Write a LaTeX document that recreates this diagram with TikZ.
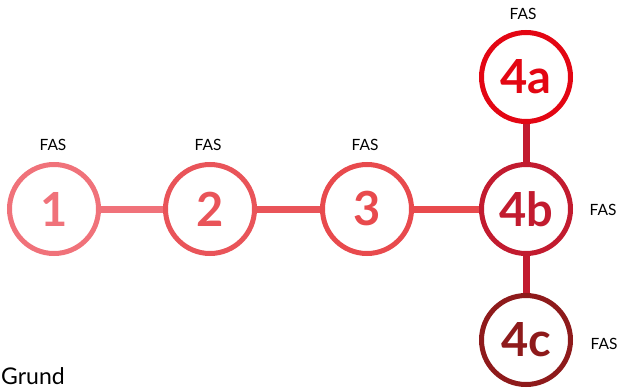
\documentclass[tikz,border=0pt]{standalone}
\usepackage{fontspec}
\setmainfont{Lato}
\definecolor{cA}{HTML}{F0727A}
\definecolor{cB}{HTML}{E95459}
\definecolor{cC}{HTML}{E84A4D}
\definecolor{cDa}{HTML}{E30613}
\definecolor{cDb}{HTML}{C21B2F}
\definecolor{cDc}{HTML}{8E1A1B}
\begin{document}
\begin{tikzpicture}[x=1pt,y=-1pt,
  stepcirc/.style={circle,draw,line width=5pt,minimum size=89pt,inner sep=0pt,
    font=\fontsize{47}{47}\selectfont\bfseries},
  conn/.style={line width=7pt},
  fas/.style={font=\fontsize{15.5}{15.5}\selectfont,inner sep=0pt}]
\useasboundingbox (0,0) rectangle (619,388);
\node[stepcirc,draw=cA,text=cA] (n1) at (54,209) {1};
\node[stepcirc,draw=cB,text=cB] (n2) at (210,209) {2};
\node[stepcirc,draw=cC,text=cC] (n3) at (367,209) {3};
\node[stepcirc,draw=cDb,text=cDb] (n4b) at (526,209) {4b};
\node[stepcirc,draw=cDa,text=cDa] (n4a) at (526,77) {4a};
\node[stepcirc,draw=cDc,text=cDc] (n4c) at (526,340) {4c};
\draw[conn,cA] (n1) -- (n2);
\draw[conn,cB] (n2) -- (n3);
\draw[conn,cC] (n3) -- (n4b);
\draw[conn,cDb] (n4a) -- (n4b);
\draw[conn,cDb] (n4b) -- (n4c);
\node[fas] (f1) at (53,145) {FAS};
\node[fas] (f2) at (208,145) {FAS};
\node[fas] (f3) at (365,145) {FAS};
\node[fas] (f4a) at (523,14) {FAS};
\node[fas] (f4b) at (603,210) {FAS};
\node[fas] (f4c) at (604,344) {FAS};
\node[anchor=base west,inner sep=0pt,font=\fontsize{23}{23}\selectfont] (grund) at (1,384) {Grund};
\end{tikzpicture}
\end{document}
